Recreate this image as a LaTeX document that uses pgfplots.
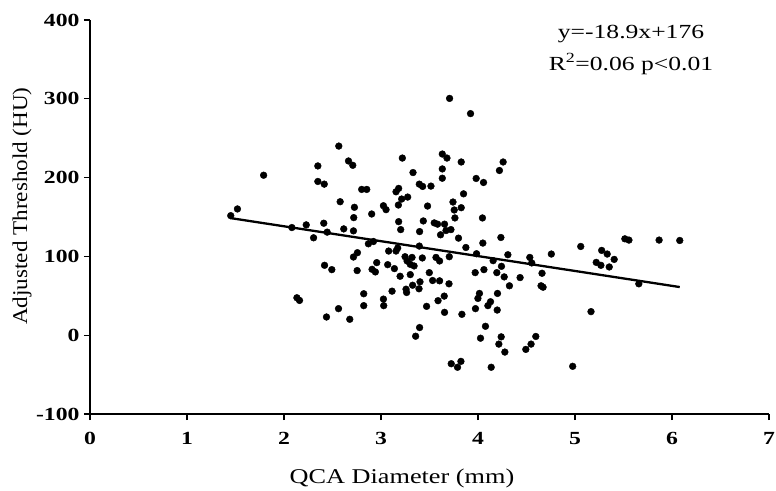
\documentclass[border=0pt]{standalone}
\usepackage{fontspec}
\setmainfont{Liberation Serif}
\newfontfamily\tickfont{Liberation Serif}[FakeStretch=1.28]
\newfontfamily\labfont{Liberation Serif}[FakeStretch=1.1]
\newfontfamily\xlabfont{Liberation Serif}[FakeStretch=1.25]
\usepackage{pgfplots}
\pgfplotsset{compat=1.18}
\pgfplotstableread{
x y
2.565 240.0
2.665 221.1
2.709 215.6
2.349 214.8
1.790 203.0
2.349 195.1
2.415 191.7
2.801 185.0
2.853 185.0
2.579 169.4
2.726 162.3
1.520 160.2
2.904 153.8
1.451 151.7
2.719 149.2
2.229 140.0
2.410 142.1
2.616 134.9
2.716 132.4
2.081 136.6
2.305 123.6
2.445 130.8
3.707 300.5
3.923 281.2
3.220 224.8
3.632 229.9
3.680 224.8
3.827 219.8
4.259 219.8
4.221 209.0
3.330 206.4
3.632 211.0
3.632 199.2
3.981 198.9
4.057 193.8
3.395 191.7
3.429 188.8
3.515 189.2
3.155 182.0
3.182 186.3
3.851 179.4
3.213 172.8
3.275 175.3
3.179 165.2
3.480 163.9
3.742 169.0
3.025 164.3
3.052 159.3
3.755 158.9
3.827 161.8
3.762 148.8
4.046 148.8
3.182 144.1
3.436 145.0
3.549 142.5
3.583 140.9
3.655 140.9
3.203 134.0
3.398 131.5
3.670 132.8
3.721 134.0
3.614 127.4
3.799 123.2
4.236 124.0
4.050 116.9
3.875 111.3
2.922 118.9
2.870 116.0
3.079 106.8
3.155 106.8
3.172 110.6
3.395 113.1
3.704 99.6
4.308 102.1
3.985 103.4
4.534 98.7
3.248 99.6
3.320 98.7
3.426 98.0
3.567 98.7
3.604 94.2
2.956 92.1
3.069 89.5
3.269 94.2
3.302 89.9
3.341 87.9
4.156 94.6
4.242 87.4
4.554 91.7
2.908 83.6
2.942 80.3
3.138 84.5
4.061 83.2
3.971 79.4
4.194 79.4
3.498 79.4
3.302 76.9
3.197 74.8
4.270 74.0
4.660 78.6
4.434 73.1
3.532 69.4
3.604 69.0
3.402 67.7
3.326 63.4
3.701 65.2
4.650 62.7
4.671 60.9
4.324 62.7
3.258 58.4
3.264 54.2
3.392 58.9
3.114 55.9
4.201 53.0
4.015 53.0
3.999 46.7
3.652 49.6
3.588 43.8
3.025 45.8
3.028 37.5
4.129 42.5
4.102 37.5
3.470 36.6
3.974 33.7
4.198 31.9
3.655 29.0
3.834 26.5
3.398 9.7
4.077 11.3
3.357 -1.3
4.026 -3.8
4.239 -2.1
4.596 -1.6
4.215 -11.3
4.547 -11.3
4.493 -18.0
4.277 -21.4
3.724 -36.2
3.824 -33.2
3.789 -40.7
4.136 -40.7
2.716 99.2
2.757 104.7
2.418 88.7
2.493 83.2
2.754 82.0
2.133 47.5
2.160 44.1
2.822 52.6
2.822 37.5
2.562 33.7
2.438 23.1
2.678 20.2
4.756 103.0
5.059 112.6
5.275 107.6
5.332 103.0
5.404 96.2
5.219 92.4
5.267 88.7
5.353 86.6
5.514 122.3
5.556 120.7
5.867 120.7
6.080 120.2
5.658 65.2
5.165 29.9
4.976 -39.5
}\pts
\begin{document}
\begin{tikzpicture}
\begin{axis}[
  scale only axis, width=679bp, height=394bp,
  xmin=0, xmax=7, ymin=-100, ymax=400,
  axis x line*=bottom, axis y line*=left,
  axis line style={line width=1.3bp, -},
  xtick={0,1,...,7}, ytick={-100,0,100,200,300,400},
  tick align=outside, major tick length=6bp,
  tick style={line width=1.1bp, black},
  /pgf/number format/assume math mode=true,
  ticklabel style={font=\tickfont\bfseries\fontsize{18.5bp}{20bp}\selectfont},
  xticklabel style={yshift=-9bp},
  yticklabel style={xshift=-1bp},
  clip=false,
]
\addplot[only marks, mark=*, mark size=3.4bp, black] table[x=x,y=y] {\pts};
\addplot[black, line width=2.3bp] coordinates {(1.45,148.6) (6.08,61.1)};
\end{axis}
\node[rotate=90, font=\labfont\fontsize{21bp}{24bp}\selectfont] at (-68bp,208bp) {Adjusted Threshold (HU)};
\node[font=\xlabfont\fontsize{21bp}{24bp}\selectfont] at (312bp,-64bp) {QCA Diameter (mm)};
\node[font=\tickfont\fontsize{20bp}{22bp}\selectfont] at (541bp,380bp) {y=-18.9x+176};
\node[font=\tickfont\fontsize{20bp}{22bp}\selectfont] at (541bp,350bp) {R\textsuperscript{2}=0.06 p<0.01};
\pgfresetboundingbox
\path (-90bp,-77bp) rectangle (686bp,414bp);
\end{tikzpicture}
\end{document}
